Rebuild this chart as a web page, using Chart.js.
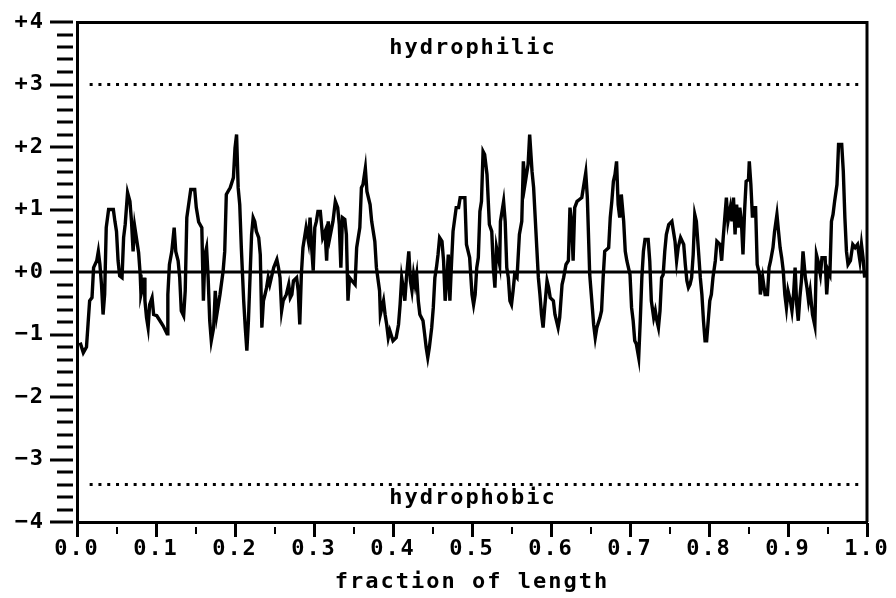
<!DOCTYPE html>
<html>
<head>
<meta charset="utf-8">
<script src="https://cdn.jsdelivr.net/npm/chart.js@4.4.1/dist/chart.umd.min.js"></script>
<style>
  html, body { margin: 0; padding: 0; background: #fff; }
  #wrap { width: 896px; height: 598px; position: relative; }
</style>
</head>
<body>
<div id="wrap"><canvas id="c" width="896" height="598"></canvas></div>
<script>
// ---- data ----
const fraction = [
0.004,0.008,0.012,0.014,0.016,0.019,0.021,0.025,0.027,0.029,0.031,0.033,0.035,0.037,0.040,0.046,0.048,0.050,0.052,0.054,
0.057,0.059,0.061,0.064,0.067,0.069,0.071,0.073,0.078,0.080,0.081,0.083,0.085,0.086,0.088,0.090,0.092,0.095,0.097,0.101,
0.105,0.109,0.114,0.115,0.117,0.120,0.123,0.125,0.128,0.130,0.132,0.135,0.137,0.139,0.144,0.149,0.151,0.154,0.158,0.160,
0.162,0.164,0.166,0.168,0.170,0.173,0.175,0.177,0.181,0.185,0.187,0.189,0.194,0.198,0.200,0.202,0.204,0.206,0.208,0.211,
0.213,0.215,0.217,0.219,0.221,0.223,0.225,0.227,0.230,0.232,0.234,0.236,0.238,0.240,0.242,0.244,0.246,0.249,0.253,0.255,
0.257,0.259,0.261,0.265,0.268,0.270,0.272,0.274,0.278,0.280,0.282,0.284,0.286,0.290,0.293,0.295,0.297,0.299,0.301,0.303,
0.305,0.308,0.311,0.314,0.316,0.318,0.320,0.324,0.327,0.330,0.332,0.334,0.336,0.339,0.341,0.343,0.345,0.348,0.352,0.354,
0.358,0.360,0.362,0.365,0.367,0.371,0.373,0.377,0.379,0.383,0.384,0.388,0.390,0.392,0.394,0.396,0.400,0.404,0.407,0.409,
0.411,0.413,0.415,0.417,0.420,0.422,0.424,0.426,0.428,0.430,0.432,0.434,0.438,0.440,0.442,0.444,0.446,0.449,0.451,0.453,
0.455,0.457,0.459,0.462,0.464,0.466,0.468,0.470,0.472,0.474,0.476,0.480,0.483,0.485,0.491,0.493,0.497,0.500,0.502,0.504,
0.506,0.508,0.510,0.512,0.514,0.516,0.519,0.522,0.525,0.527,0.529,0.531,0.535,0.536,0.540,0.542,0.544,0.546,0.548,0.550,
0.552,0.554,0.557,0.560,0.563,0.565,0.567,0.569,0.571,0.573,0.576,0.578,0.582,0.584,0.586,0.588,0.590,0.592,0.595,0.597,
0.599,0.603,0.605,0.609,0.611,0.614,0.616,0.619,0.622,0.624,0.626,0.628,0.630,0.633,0.636,0.639,0.641,0.644,0.646,0.649,
0.651,0.654,0.656,0.658,0.662,0.664,0.666,0.668,0.673,0.675,0.677,0.679,0.681,0.683,0.685,0.687,0.689,0.692,0.694,0.696,
0.698,0.700,0.702,0.704,0.706,0.708,0.711,0.713,0.715,0.717,0.719,0.723,0.725,0.727,0.730,0.732,0.734,0.736,0.738,0.740,
0.742,0.744,0.746,0.749,0.753,0.755,0.757,0.759,0.761,0.764,0.768,0.770,0.772,0.774,0.776,0.778,0.780,0.782,0.784,0.787,
0.789,0.791,0.793,0.795,0.797,0.799,0.801,0.803,0.805,0.808,0.810,0.814,0.816,0.818,0.820,0.822,0.824,0.827,0.829,0.831,
0.833,0.835,0.837,0.839,0.841,0.843,0.845,0.847,0.850,0.851,0.853,0.855,0.856,0.859,0.861,0.864,0.865,0.868,0.871,0.874,
0.876,0.878,0.881,0.883,0.886,0.888,0.890,0.892,0.894,0.896,0.898,0.900,0.903,0.905,0.907,0.909,0.911,0.913,0.915,0.917,
0.919,0.922,0.924,0.926,0.928,0.931,0.934,0.936,0.938,0.941,0.943,0.947,0.949,0.951,0.953,0.955,0.957,0.959,0.962,0.964,
0.968,0.970,0.972,0.974,0.976,0.979,0.982,0.985,0.988,0.991,0.993,0.995,0.997
];
const hydropathy = [
-1.13,-1.29,-1.20,-0.83,-0.46,-0.41,0.07,0.18,0.33,0.12,-0.20,-0.68,-0.36,0.71,1.00,1.00,0.81,0.65,0.18,-0.06,
-0.09,0.55,0.76,1.27,1.13,0.81,0.33,0.73,0.31,-0.04,-0.36,-0.25,-0.09,-0.46,-0.73,-0.89,-0.52,-0.41,-0.68,-0.70,
-0.78,-0.86,-0.99,-0.36,0.12,0.33,0.71,0.33,0.18,-0.09,-0.62,-0.70,-0.30,0.87,1.32,1.32,1.03,0.80,0.71,-0.46,
0.28,0.39,-0.09,-0.78,-1.10,-0.89,-0.30,-0.68,-0.36,0.02,0.33,1.24,1.35,1.51,1.98,2.20,1.35,1.08,0.39,-0.46,
-0.89,-1.26,-0.78,-0.09,0.60,0.87,0.81,0.65,0.55,0.28,-0.89,-0.46,-0.36,-0.25,-0.09,-0.20,-0.09,0.07,0.20,0.07,
-0.09,-0.62,-0.46,-0.36,-0.20,-0.41,-0.36,-0.14,-0.09,-0.30,-0.84,-0.04,0.39,0.71,0.49,0.87,0.39,0.02,0.71,0.81,
0.97,0.97,0.55,0.65,0.18,0.81,0.55,0.81,1.13,1.03,0.76,0.07,0.87,0.84,0.60,-0.46,-0.09,-0.14,-0.20,0.39,
0.71,1.35,1.40,1.66,1.29,1.08,0.81,0.49,0.07,-0.30,-0.68,-0.46,-0.68,-0.84,-1.05,-0.94,-1.10,-1.05,-0.84,-0.52,
-0.09,-0.25,-0.46,-0.09,0.33,-0.14,-0.30,-0.04,-0.20,-0.04,-0.46,-0.68,-0.78,-0.99,-1.21,-1.37,-1.21,-0.89,-0.57,-0.09,
0.07,0.28,0.55,0.49,0.18,-0.46,-0.14,0.28,-0.46,0.12,0.65,1.03,1.03,1.19,1.19,0.44,0.23,-0.36,-0.52,-0.36,
0.07,0.23,0.97,1.13,1.93,1.88,1.56,0.76,0.65,0.07,-0.25,0.39,0.12,0.81,1.13,0.81,0.07,-0.09,-0.46,-0.52,
-0.30,-0.04,-0.09,0.60,0.81,1.77,1.40,1.56,1.72,2.20,1.61,1.35,0.39,-0.09,-0.36,-0.68,-0.89,-0.57,-0.14,-0.25,
-0.41,-0.46,-0.68,-0.89,-0.73,-0.20,-0.09,0.12,0.18,1.03,0.81,0.18,1.03,1.13,1.16,1.19,1.35,1.59,1.19,-0.04,
-0.36,-0.84,-1.05,-0.89,-0.73,-0.62,-0.09,0.33,0.39,0.87,1.13,1.45,1.56,1.77,1.08,0.87,1.24,0.81,0.33,0.18,
0.07,-0.04,-0.57,-0.78,-1.10,-1.15,-1.37,-0.78,-0.09,0.33,0.52,0.52,0.18,-0.46,-0.73,-0.62,-0.78,-0.89,-0.62,-0.09,
-0.04,0.33,0.60,0.76,0.81,0.65,0.49,0.18,0.39,0.55,0.44,0.12,-0.14,-0.25,-0.20,-0.09,0.28,0.92,0.81,0.28,
-0.09,-0.36,-0.78,-1.10,-1.10,-0.78,-0.46,-0.36,-0.09,0.18,0.49,0.44,0.18,0.55,0.87,1.19,0.81,1.03,0.81,1.19,
0.60,1.08,0.71,1.03,0.81,0.28,0.97,1.45,1.48,1.77,1.40,0.87,1.03,1.03,0.12,-0.04,-0.36,-0.09,-0.36,-0.36,
0.07,0.18,0.39,0.65,0.92,0.65,0.39,0.23,0.02,-0.36,-0.57,-0.30,-0.46,-0.62,-0.36,0.07,-0.52,-0.78,-0.41,-0.14,
0.33,-0.09,-0.25,-0.46,-0.30,-0.68,-0.86,0.28,0.18,-0.04,0.23,0.23,-0.36,0.02,-0.04,0.81,0.92,1.13,1.40,2.04,
2.04,1.61,0.87,0.33,0.12,0.18,0.44,0.39,0.44,0.18,0.44,0.23,-0.09
];
const thresholdValues = [3, -3.4];          // dotted reference levels
const thresholdSpan = [0.016, 0.989];       // fraction range of dotted lines
const regionLabels = ['hydrophilic', 'hydrophobic'];
const regionLabelValues = [3.58, -3.62];
const yRange = [-4, 4];
const xRange = [0, 1];
const xTitle = 'fraction of length';

const FONT = 'DejaVu Sans Mono';
const fontSpec = { family: FONT, weight: 'bold', size: 22 };

const profile = fraction.map((f, i) => ({ x: f, y: hydropathy[i] }));
const zeroLine = xRange.map(x => ({ x, y: 0 }));
const thresholdSets = thresholdValues.map(v => ({
  data: thresholdSpan.map(x => ({ x, y: v })),
  borderColor: '#000', borderWidth: 3, borderDash: [3, 5.8], borderCapStyle: 'butt',
  pointRadius: 0, showLine: true, fill: false
}));

function setSpacing(chart) { chart.ctx.letterSpacing = '2px'; }

const decor = {
  id: 'decor',
  beforeLayout: setSpacing,
  beforeDraw: setSpacing,
  afterDraw(chart) {
    const ctx = chart.ctx;
    const a = chart.chartArea;
    const xs = chart.scales.x, ys = chart.scales.y;
    ctx.save();
    ctx.strokeStyle = '#000';
    ctx.fillStyle = '#000';
    // frame top and right
    ctx.lineWidth = 3;
    ctx.beginPath();
    ctx.moveTo(a.left, a.top + 0.5); ctx.lineTo(a.right + 1.5, a.top + 0.5);
    ctx.moveTo(a.right, a.top); ctx.lineTo(a.right, a.bottom);
    ctx.stroke();
    // y tick marks every 0.2
    for (let i = -20; i <= 20; i++) {
      const y = ys.getPixelForValue(i / 5);
      const major = i % 5 === 0;
      ctx.fillRect(major ? a.left - 27 : a.left - 20, Math.round(y) - 1.5, major ? 23 : 16, 3);
    }
    // x tick marks every 0.05
    for (let i = 0; i <= 20; i++) {
      const x = xs.getPixelForValue(i / 20);
      const major = i % 2 === 0;
      if (major) ctx.fillRect(Math.round(x) - 1, a.bottom + 1, 3, 14);
      else ctx.fillRect(Math.round(x) - 1, a.bottom + 5, 2, 7);
    }
    // region labels
    ctx.font = 'bold 22px "' + FONT + '"';
    ctx.letterSpacing = '2px';
    ctx.textAlign = 'center';
    ctx.textBaseline = 'middle';
    regionLabels.forEach((t, i) => {
      ctx.fillText(t, (a.left + a.right) / 2 + 1, ys.getPixelForValue(regionLabelValues[i]));
    });
    ctx.restore();
  }
};

new Chart(document.getElementById('c'), {
  type: 'scatter',
  data: {
    datasets: [
      { data: profile, showLine: true, borderColor: '#000', borderWidth: 3.4, pointRadius: 0, tension: 0, borderJoinStyle: 'miter' },
      { data: zeroLine, showLine: true, borderColor: '#000', borderWidth: 3, pointRadius: 0 },
      ...thresholdSets
    ]
  },
  options: {
    responsive: false,
    animation: false,
    devicePixelRatio: 1,
    layout: { padding: { top: 22, right: 29, left: 0, bottom: 0 } },
    plugins: { legend: { display: false }, tooltip: { enabled: false } },
    scales: {
      x: {
        type: 'linear', min: xRange[0], max: xRange[1],
        grid: { display: false, drawTicks: false },
        border: { display: true, color: '#000', width: 3 },
        ticks: {
          stepSize: 0.05, autoSkip: false, maxRotation: 0, padding: 14, color: '#000', font: fontSpec,
          callback: v => (Math.abs(v * 10 - Math.round(v * 10)) < 1e-6 ? v.toFixed(1) : '')
        },
        title: { display: true, text: xTitle, color: '#000', font: fontSpec, padding: { top: 0, bottom: 3 } },
        afterFit: s => { s.height = 76; s.paddingLeft = 0; s.paddingRight = 0; }
      },
      y: {
        type: 'linear', min: yRange[0], max: yRange[1],
        grid: { display: false, drawTicks: false },
        border: { display: true, color: '#000', width: 3 },
        ticks: {
          stepSize: 0.2, autoSkip: false, padding: 32, color: '#000', font: fontSpec,
          callback: v => {
            const r = Math.round(v);
            if (Math.abs(v - r) > 1e-6) return '';
            return (r >= 0 ? '+' : '\u2212') + Math.abs(r);
          }
        },
        afterFit: s => { s.width = 77; s.paddingTop = 0; s.paddingBottom = 0; }
      }
    }
  },
  plugins: [decor]
});
</script>
</body>
</html>
